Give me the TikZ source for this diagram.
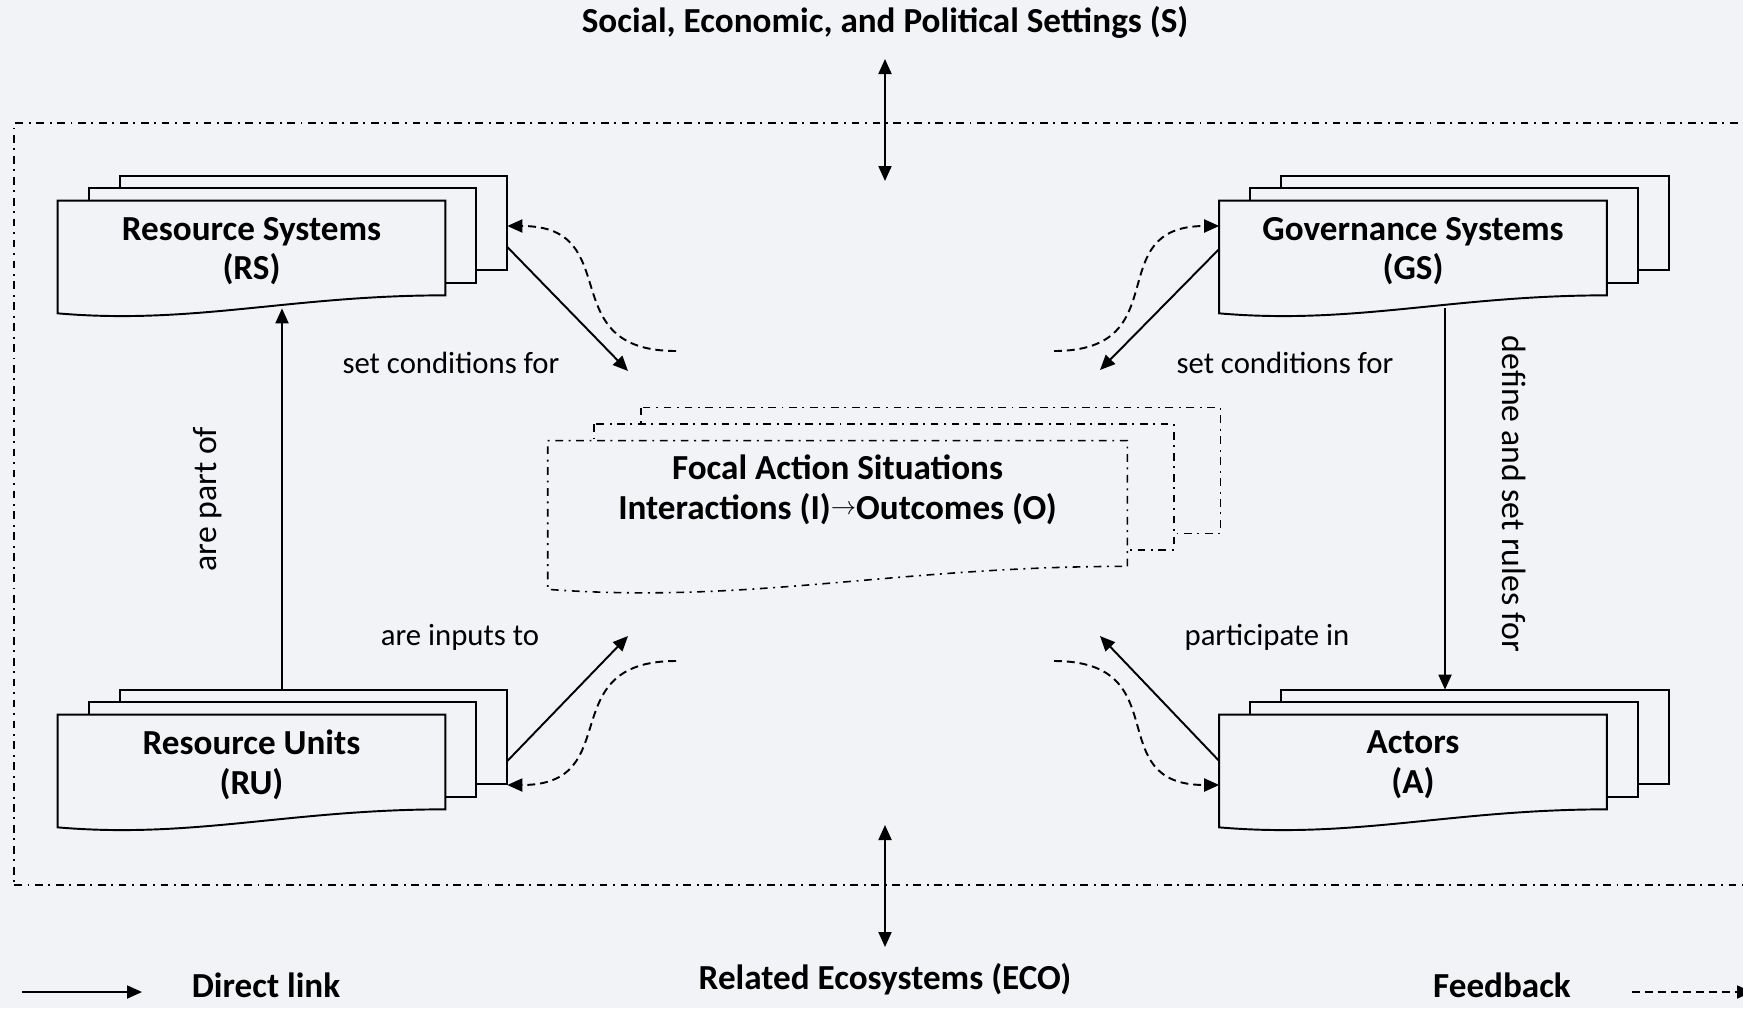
\documentclass[tikz,border=0pt]{standalone}
\usepackage{fontspec}
\setmainfont{Carlito}
\usetikzlibrary{arrows.meta, calc}

\definecolor{paper}{RGB}{242,243,246}
\pgfdeclarelayer{paperlayer}
\pgfdeclarelayer{sheets}
\pgfsetlayers{paperlayer,sheets,main}

% stacked document sheets behind a node: name, dx, dy, half wave, wave drop, style
\newcommand{\docstack}[6]{%
  \begin{pgfonlayer}{sheets}
    \foreach \k in {2,1}{
      \draw[#6] ($(#1.north west)+(\k*#2,-\k*#3)$) rectangle ($(#1.south east)+(\k*#2,#5-#4-\k*#3)$);
    }
    \draw[#6] ($(#1.south east)+(0,#5-#4)$) -- (#1.north east) -- (#1.north west) -- ($(#1.south west)+(0,#5+#4)$)
      .. controls ($(#1.south west)!0.35!(#1.south east)+(0,#5+2.3*#4)$) and ($(#1.south west)!0.6!(#1.south east)+(0,#5-#4)$) .. cycle;
  \end{pgfonlayer}
}

\begin{document}
\begin{tikzpicture}[
      x=0.02cm, y=-0.02cm,
      >={Triangle[length=0.3cm, width=0.26cm]},
      head/.style={font=\fontsize{20}{22.5}\selectfont\bfseries, align=center},
      tag/.style={font=\fontsize{17.5}{21}\selectfont},
      sidetag/.style={font=\fontsize{19.2}{21}\selectfont},
      sheet/.style={draw, line width=1.1pt, fill=paper},
      dotsheet/.style={draw, line width=0.9pt, fill=paper, dash pattern=on 4.4pt off 3.2pt on 1.1pt off 3.2pt},
      docbox/.style={head, minimum width=7.74cm, minimum height=2cm, inner sep=0pt},
      frame/.style={draw, line width=0.9pt, dash pattern=on 4.4pt off 3.2pt on 1.1pt off 3.2pt},
      link/.style={->, line width=1.1pt},
      fback/.style={->, line width=1.1pt, dash pattern=on 4.5pt off 2.8pt},
  ]

  \useasboundingbox (0,0) rectangle (1743,1008);
  \begin{pgfonlayer}{paperlayer}
    \fill[paper] (0,0) rectangle (1743,1008);
  \end{pgfonlayer}

  % Settings and outer system frame
  \node[head, anchor=base] (settings) at (885,32) {Social, Economic, and Political Settings (S)};
  \node[frame, minimum width=34.92cm, minimum height=15.24cm] (sys) at (887,504) {};

  % --- First-tier systems ---
  \node[docbox] (rs) at (251.5,251) {Resource Systems\\(RS)};
  \node[docbox] (gs) at (1413,251) {Governance Systems\\(GS)};
  \node[docbox] (ru) at (251.5,765) {Resource Units\\(RU)};
  \node[docbox] (act) at (1413,765) {Actors\\(A)};
  \node[docbox, minimum width=11.58cm, minimum height=1.96cm] (fas) at (837.5,490)
      {Focal Action Situations\\Interactions (I)\raisebox{0.3ex}{\fontsize{14}{14}\selectfont$\rightarrow$}Outcomes (O)};

  \docstack{rs}{31}{12.5}{9}{3}{sheet}
  \docstack{gs}{31}{12.5}{9}{3}{sheet}
  \docstack{ru}{31}{12.5}{9}{3}{sheet}
  \docstack{act}{31}{12.5}{9}{3}{sheet}
  \docstack{fas}{46.5}{16.5}{11.5}{38.5}{dotsheet}

  % --- Direct links towards the action situations ---
  \coordinate (rs-tip) at (628,371);
  \coordinate (gs-tip) at (1100,370);
  \coordinate (ru-tip) at (628,636);
  \coordinate (act-tip) at (1100,636);
  \draw[link] ([shift={(62,-4)}]rs.east) -- (rs-tip);
  \draw[link] ([shift={(0,-2)}]gs.west) -- (gs-tip);
  \draw[link] ([shift={(62,-4)}]ru.east) -- (ru-tip);
  \draw[link] ([shift={(0,-4)}]act.west) -- (act-tip);

  % --- Feedbacks from the action situations ---
  \coordinate (rs-fb) at (676,351);
  \coordinate (gs-fb) at (1054,351);
  \coordinate (ru-fb) at (676,661);
  \coordinate (act-fb) at (1054,661);
  \draw[fback] (rs-fb) .. controls +(-125,0) and +(120,0) .. ([shift={(62,-25)}]rs.east);
  \draw[fback] (gs-fb) .. controls +(125,0) and +(-120,0) .. ([shift={(0,-25)}]gs.west);
  \draw[fback] (ru-fb) .. controls +(-125,0) and +(120,0) .. ([shift={(62,20)}]ru.east);
  \draw[fback] (act-fb) .. controls +(125,0) and +(-120,0) .. ([shift={(0,20)}]act.west);

  % --- Vertical links ---
  \draw[link] ([shift={(30.5,-25)}]ru.north) -- ([shift={(30.5,7)}]rs.south);
  \draw[link] ([shift={(32,7)}]gs.south) -- ([shift={(32,-25)}]act.north);

  % --- Link labels ---
  \node[tag, anchor=base] (l-rs) at (451,373) {set conditions for};
  \node[tag, anchor=base] (l-gs) at (1285,373) {set conditions for};
  \node[tag, anchor=base] (l-ru) at (460,645) {are inputs to};
  \node[tag, anchor=base] (l-act) at (1267,645) {participate in};
  \node[sidetag, rotate=90] (l-part) at (208,499) {are part of};
  \node[sidetag, rotate=-90] (l-rules) at (1514,494) {define and set rules for};

  % --- Outside influences ---
  \coordinate (s-out) at (885,59);
  \coordinate (s-in) at (885,181);
  \draw[<->, line width=1.1pt] (s-out) -- (s-in);
  \node[head, anchor=base] (eco) at (885,989) {Related Ecosystems (ECO)};
  \coordinate (e-in) at (885,825);
  \coordinate (e-out) at (885,947);
  \draw[<->, line width=1.1pt] (e-in) -- (e-out);

  % --- Legend ---
  \coordinate (dl-a) at (22,992);
  \coordinate (dl-b) at (142,992);
  \draw[link] (dl-a) -- (dl-b);
  \node[head, anchor=base, inner sep=0pt] (direct) at (266,997) {Direct link};
  \node[head, anchor=base, inner sep=0pt] (feedback) at (1502,997) {Feedback};
  \coordinate (fb-a) at (1632,992);
  \coordinate (fb-b) at (1752,992);
  \draw[fback] (fb-a) -- (fb-b);

\end{tikzpicture}
\end{document}
